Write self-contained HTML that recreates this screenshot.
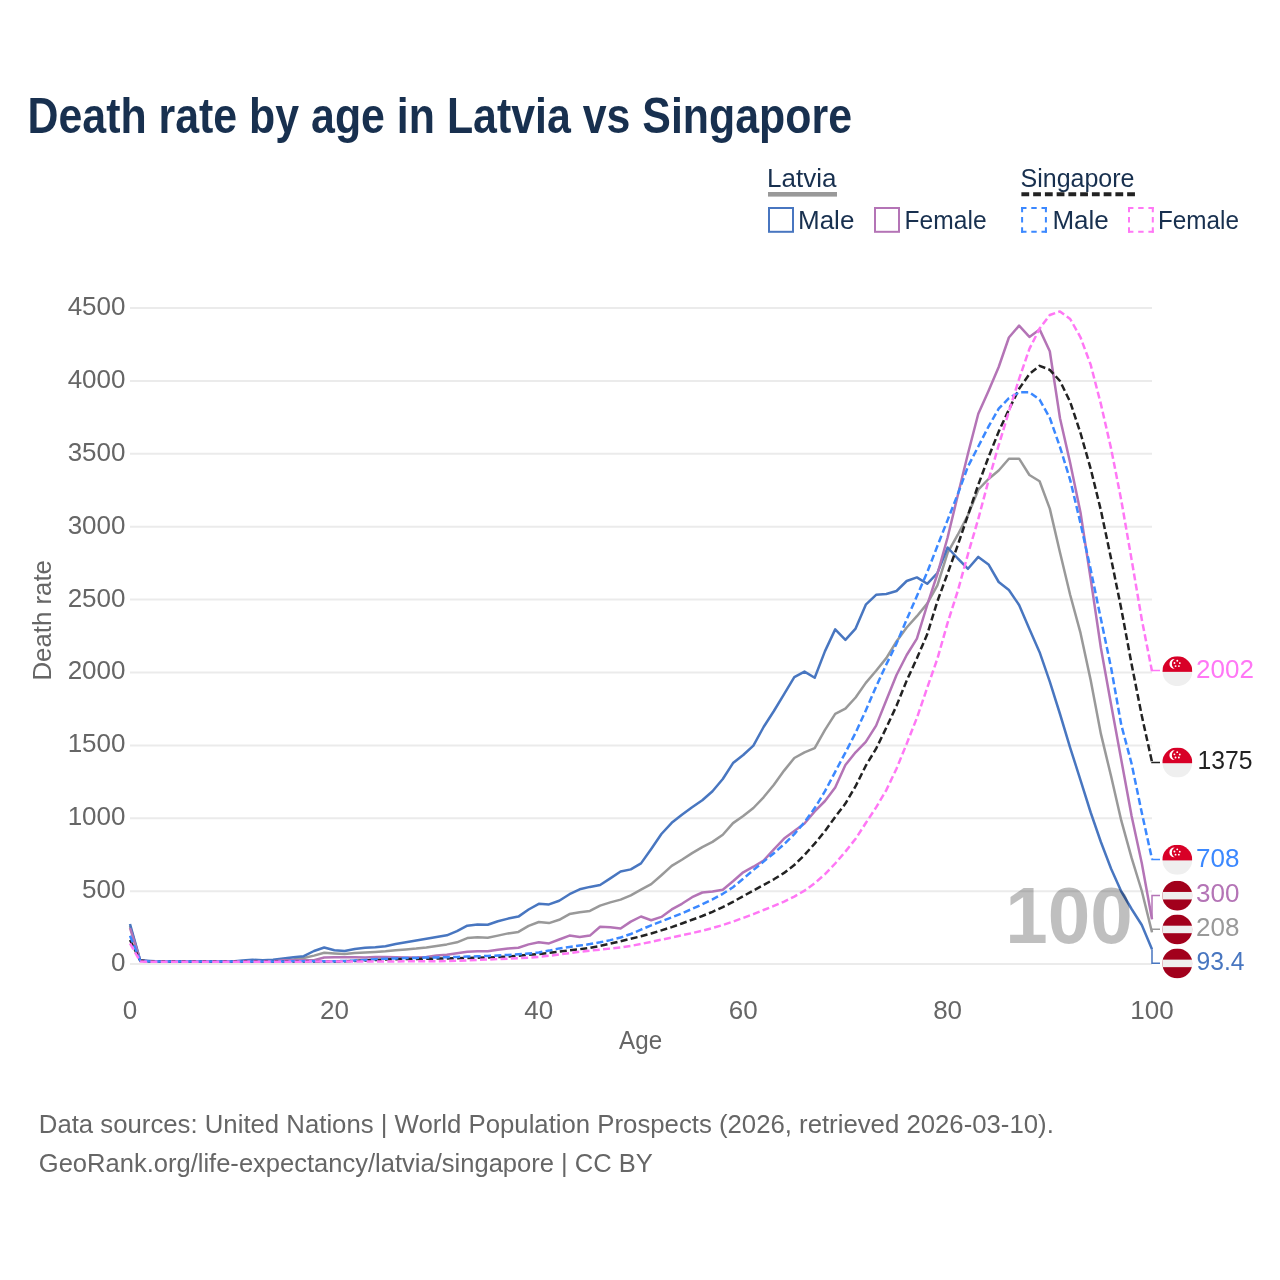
<!DOCTYPE html>
<html><head><meta charset="utf-8">
<style>
html,body{margin:0;padding:0;background:#fff;width:1280px;height:1280px;overflow:hidden}
svg{display:block;will-change:transform}
text{font-family:"Liberation Sans",sans-serif}
</style></head>
<body>
<svg id="root" width="1280" height="1280" viewBox="0 0 1280 1280">
<defs>
<clipPath id="cc"><circle cx="0" cy="0" r="15"/></clipPath>
<g id="sg">
<g clip-path="url(#cc)">
<rect x="-15" y="-15" width="30" height="30" fill="#efefef"/>
<rect x="-15" y="-15" width="30" height="15.6" fill="#d80027"/>
<path d="M-2.65,-12.25 A4.89,4.89 0 1 0 -2.65,-2.5 A5.645,5.645 0 0 1 -2.65,-12.25 Z" fill="#fff"/>
<circle cx="-0.05" cy="-10.45" r="0.95" fill="#fff"/>
<circle cx="-2.85" cy="-8.25" r="0.95" fill="#fff"/>
<circle cx="2.45" cy="-8.15" r="0.95" fill="#fff"/>
<circle cx="-1.75" cy="-5.15" r="0.95" fill="#fff"/>
<circle cx="1.55" cy="-5.15" r="0.95" fill="#fff"/>
</g>
</g>
<g id="lv">
<g clip-path="url(#cc)">
<rect x="-15" y="-15" width="30" height="30" fill="#a2001c"/>
<rect x="-15" y="-3.75" width="30" height="7.5" fill="#efefef"/>
</g>
</g>
</defs>
<rect width="1280" height="1280" fill="#fff"/>
<text id="title" x="27.5" y="132.7" font-size="50" font-weight="bold" fill="#18304f" textLength="824.5" lengthAdjust="spacingAndGlyphs">Death rate by age in Latvia vs Singapore</text>

<!-- legend -->
<g fill="#18304f" font-size="26">
<text id="lgLat" x="767" y="186.8">Latvia</text>
<text id="lgSin" x="1020.5" y="186.8" textLength="114" lengthAdjust="spacingAndGlyphs">Singapore</text>
<text id="lgM1" x="798" y="229">Male</text>
<text id="lgF1" x="904.6" y="229" textLength="82" lengthAdjust="spacingAndGlyphs">Female</text>
<text id="lgM2" x="1052.4" y="229">Male</text>
<text id="lgF2" x="1158" y="229" textLength="81" lengthAdjust="spacingAndGlyphs">Female</text>
</g>
<rect x="768" y="192" width="69" height="4.6" fill="#999"/>
<line x1="1021.4" y1="194.2" x2="1135.2" y2="194.2" stroke="#222" stroke-width="4" stroke-dasharray="7.8 3.95"/>
<rect x="769" y="208" width="24" height="23.8" fill="none" stroke="#4876c0" stroke-width="2"/>
<rect x="875" y="208" width="24" height="23.8" fill="none" stroke="#b474b6" stroke-width="2"/>
<g stroke="#3b88ff" stroke-width="2" stroke-dasharray="5.4 4.8">
<line x1="1021.1" y1="207.9" x2="1046.9" y2="207.9"/><line x1="1021.1" y1="231.8" x2="1046.9" y2="231.8"/>
<line x1="1022.1" y1="206.9" x2="1022.1" y2="232.8"/><line x1="1045.9" y1="206.9" x2="1045.9" y2="232.8"/>
</g>
<g stroke="#ff77f5" stroke-width="2" stroke-dasharray="5.4 4.8">
<line x1="1128" y1="207.9" x2="1153.8" y2="207.9"/><line x1="1128" y1="231.8" x2="1153.8" y2="231.8"/>
<line x1="1129" y1="206.9" x2="1129" y2="232.8"/><line x1="1152.8" y1="206.9" x2="1152.8" y2="232.8"/>
</g>

<!-- grid -->
<g stroke="#ebebeb" stroke-width="2">
<line x1="130" y1="308.0" x2="1152" y2="308.0"/>
<line x1="130" y1="380.9" x2="1152" y2="380.9"/>
<line x1="130" y1="453.8" x2="1152" y2="453.8"/>
<line x1="130" y1="526.7" x2="1152" y2="526.7"/>
<line x1="130" y1="599.6" x2="1152" y2="599.6"/>
<line x1="130" y1="672.5" x2="1152" y2="672.5"/>
<line x1="130" y1="745.4" x2="1152" y2="745.4"/>
<line x1="130" y1="818.3" x2="1152" y2="818.3"/>
<line x1="130" y1="891.2" x2="1152" y2="891.2"/>
<line x1="130" y1="964.1" x2="1152" y2="964.1"/>
</g>
<g fill="#666" font-size="26" text-anchor="end">
<text id="yt4500" x="125.5" y="314.9">4500</text>
<text id="yt4000" x="125.5" y="387.8">4000</text>
<text id="yt3500" x="125.5" y="460.7">3500</text>
<text id="yt3000" x="125.5" y="533.6">3000</text>
<text id="yt2500" x="125.5" y="606.5">2500</text>
<text id="yt2000" x="125.5" y="679.4">2000</text>
<text id="yt1500" x="125.5" y="752.3">1500</text>
<text id="yt1000" x="125.5" y="825.2">1000</text>
<text id="yt500" x="125.5" y="898.1">500</text>
<text id="yt0" x="125.5" y="971.0">0</text>
</g>
<g fill="#666" font-size="26" text-anchor="middle">
<text id="xl0" x="130.0" y="1018.5">0</text>
<text id="xl20" x="334.4" y="1018.5">20</text>
<text id="xl40" x="538.8" y="1018.5">40</text>
<text id="xl60" x="743.2" y="1018.5">60</text>
<text id="xl80" x="947.6" y="1018.5">80</text>
<text id="xl100" x="1152.0" y="1018.5">100</text>
</g>
<text id="xt" x="640.6" y="1048.9" font-size="26" fill="#666" text-anchor="middle" textLength="43" lengthAdjust="spacingAndGlyphs">Age</text>
<text id="yt" transform="translate(50.6,620.3) rotate(-90)" font-size="26" fill="#666" text-anchor="middle" textLength="120.5" lengthAdjust="spacingAndGlyphs">Death rate</text>

<g id="lines" fill="none" stroke-width="2.5" stroke-linejoin="round">
<path d="M130.0,926.0 140.2,960.5 150.4,961.5 160.7,961.5 170.9,961.5 181.1,961.5 191.3,961.5 201.5,961.5 211.8,961.5 222.0,961.5 232.2,961.5 242.4,961.5 252.6,961.5 262.9,961.5 273.1,961.5 283.3,960.0 293.5,959.5 303.7,958.0 314.0,955.6 324.2,952.8 334.4,953.5 344.6,954.0 354.8,953.1 365.1,952.5 375.3,951.9 385.5,951.3 395.7,950.3 405.9,949.4 416.2,948.6 426.4,947.5 436.6,945.9 446.8,944.4 457.0,942.3 467.3,938.1 477.5,937.2 487.7,937.7 497.9,935.6 508.1,933.4 518.4,931.9 528.6,925.9 538.8,922.0 549.0,923.1 559.2,919.8 569.5,914.1 579.7,912.2 589.9,910.9 600.1,905.6 610.3,902.4 620.6,899.6 630.8,895.3 641.0,889.7 651.2,884.1 661.4,875.2 671.7,865.9 681.9,859.7 692.1,853.1 702.3,847.1 712.5,841.9 722.8,834.8 733.0,823.1 743.2,816.0 753.4,808.0 763.6,797.3 773.9,784.7 784.1,770.6 794.3,758.0 804.5,752.3 814.7,748.1 825.0,729.8 835.2,713.8 845.4,708.7 855.6,697.5 865.8,682.9 876.1,670.8 886.3,658.1 896.5,641.5 906.7,627.5 916.9,616.2 927.2,603.6 937.4,585.3 947.6,552.9 957.8,534.7 968.0,515.0 978.3,489.7 988.5,479.0 998.7,470.5 1008.9,458.7 1019.1,458.7 1029.4,475.0 1039.6,481.2 1049.8,508.6 1060.0,552.5 1070.2,595.0 1080.5,632.9 1090.7,680.3 1100.9,733.9 1111.1,776.3 1121.3,820.7 1131.6,857.9 1141.8,891.0 1152.0,932.3" stroke="#999"/>
<path d="M130.0,924.0 140.2,960.3 150.4,961.0 160.7,961.5 170.9,961.5 181.1,961.5 191.3,961.5 201.5,961.5 211.8,961.5 222.0,961.5 232.2,961.5 242.4,960.6 252.6,959.8 262.9,960.2 273.1,959.8 283.3,958.5 293.5,957.2 303.7,956.2 314.0,951.0 324.2,947.5 334.4,950.2 344.6,951.0 354.8,949.0 365.1,947.8 375.3,947.2 385.5,946.2 395.7,944.0 405.9,942.3 416.2,940.5 426.4,938.8 436.6,936.9 446.8,935.3 457.0,931.2 467.3,925.7 477.5,924.5 487.7,924.8 497.9,921.2 508.1,918.6 518.4,916.6 528.6,909.5 538.8,903.8 549.0,904.4 559.2,900.7 569.5,894.2 579.7,889.3 589.9,886.9 600.1,885.0 610.3,878.4 620.6,871.5 630.8,869.4 641.0,863.4 651.2,849.0 661.4,834.0 671.7,822.8 681.9,814.7 692.1,807.2 702.3,800.2 712.5,791.2 722.8,779.0 733.0,763.1 743.2,755.0 753.4,745.6 763.6,727.0 773.9,711.0 784.1,694.1 794.3,677.2 804.5,671.6 814.7,677.8 825.0,651.1 835.2,629.4 845.4,639.8 855.6,628.6 865.8,604.7 876.1,594.8 886.3,594.0 896.5,591.0 906.7,581.0 916.9,577.4 927.2,583.8 937.4,573.0 947.6,547.5 957.8,558.5 968.0,568.8 978.3,556.9 988.5,564.4 998.7,582.0 1008.9,590.0 1019.1,605.0 1029.4,629.0 1039.6,652.2 1049.8,681.7 1060.0,714.0 1070.2,747.8 1080.5,780.1 1090.7,812.5 1100.9,842.0 1111.1,868.7 1121.3,891.5 1131.6,909.0 1141.8,925.0 1152.0,949.2" stroke="#4876c0"/>
<path d="M130.0,928.0 140.2,960.5 150.4,961.5 160.7,961.5 170.9,961.5 181.1,961.5 191.3,961.5 201.5,961.5 211.8,961.5 222.0,961.5 232.2,961.5 242.4,961.5 252.6,961.5 262.9,961.5 273.1,961.5 283.3,960.2 293.5,960.2 303.7,960.2 314.0,960.2 324.2,957.5 334.4,957.2 344.6,957.2 354.8,957.2 365.1,957.5 375.3,957.0 385.5,956.9 395.7,957.3 405.9,957.5 416.2,957.5 426.4,956.9 436.6,955.6 446.8,954.8 457.0,953.3 467.3,951.7 477.5,951.2 487.7,951.2 497.9,949.7 508.1,948.6 518.4,947.8 528.6,944.4 538.8,942.3 549.0,943.4 559.2,939.5 569.5,935.6 579.7,937.0 589.9,935.6 600.1,926.8 610.3,927.2 620.6,928.5 630.8,921.6 641.0,916.5 651.2,920.2 661.4,916.9 671.7,909.4 681.9,903.8 692.1,897.2 702.3,892.5 712.5,891.6 722.8,889.7 733.0,881.2 743.2,872.3 753.4,866.7 763.6,860.6 773.9,849.3 784.1,838.6 794.3,831.0 804.5,823.5 814.7,811.4 825.0,801.0 835.2,787.5 845.4,765.0 855.6,752.3 865.8,741.9 876.1,725.6 886.3,700.3 896.5,675.0 906.7,655.0 916.9,638.7 927.2,605.0 937.4,574.0 947.6,537.5 957.8,495.3 968.0,453.5 978.3,413.8 988.5,391.0 998.7,367.0 1008.9,337.5 1019.1,325.6 1029.4,336.9 1039.6,329.4 1049.8,351.2 1060.0,418.3 1070.2,463.0 1080.5,512.5 1090.7,579.0 1100.9,648.0 1111.1,704.5 1121.3,760.0 1131.6,815.9 1141.8,863.2 1152.0,919.2" stroke="#b474b6"/>
<path d="M130.0,940.0 140.2,960.5 150.4,961.5 160.7,961.5 170.9,961.5 181.1,961.5 191.3,961.5 201.5,961.5 211.8,961.5 222.0,961.5 232.2,961.5 242.4,961.5 252.6,961.5 262.9,961.5 273.1,961.5 283.3,961.5 293.5,961.5 303.7,961.5 314.0,961.5 324.2,961.5 334.4,961.5 344.6,961.3 354.8,960.9 365.1,960.4 375.3,959.9 385.5,959.5 395.7,959.2 405.9,959.0 416.2,958.9 426.4,958.7 436.6,958.6 446.8,958.4 457.0,958.2 467.3,958.0 477.5,957.8 487.7,957.5 497.9,957.1 508.1,956.5 518.4,955.7 528.6,954.9 538.8,954.0 549.0,952.9 559.2,951.6 569.5,950.4 579.7,949.2 589.9,947.8 600.1,945.9 610.3,943.6 620.6,941.2 630.8,938.8 641.0,936.3 651.2,933.5 661.4,930.4 671.7,927.1 681.9,923.5 692.1,919.8 702.3,916.0 712.5,911.8 722.8,907.1 733.0,901.8 743.2,896.2 753.4,890.5 763.6,885.0 773.9,879.3 784.1,872.9 794.3,865.0 804.5,855.0 814.7,843.6 825.0,831.1 835.2,816.9 845.4,803.6 855.6,786.2 865.8,765.7 876.1,748.7 886.3,727.7 896.5,705.8 906.7,680.6 916.9,658.3 927.2,634.3 937.4,601.3 947.6,573.4 957.8,545.1 968.0,515.1 978.3,484.7 988.5,457.1 998.7,431.6 1008.9,409.6 1019.1,388.8 1029.4,374.0 1039.6,365.8 1049.8,369.8 1060.0,381.0 1070.2,402.0 1080.5,433.0 1090.7,468.9 1100.9,510.4 1111.1,558.7 1121.3,609.0 1131.6,664.2 1141.8,715.8 1152.0,762.0" stroke="#222" stroke-dasharray="7 3.3"/>
<path d="M130.0,935.7 140.2,960.5 150.4,961.5 160.7,961.5 170.9,961.5 181.1,961.5 191.3,961.5 201.5,961.5 211.8,961.5 222.0,961.5 232.2,961.5 242.4,961.4 252.6,961.4 262.9,961.4 273.1,961.4 283.3,961.4 293.5,961.3 303.7,961.3 314.0,961.3 324.2,961.2 334.4,961.2 344.6,961.0 354.8,960.5 365.1,959.9 375.3,959.2 385.5,958.8 395.7,958.4 405.9,958.1 416.2,957.9 426.4,957.6 436.6,957.4 446.8,957.2 457.0,956.9 467.3,956.6 477.5,956.3 487.7,955.9 497.9,955.5 508.1,954.9 518.4,954.3 528.6,953.5 538.8,952.5 549.0,950.6 559.2,948.4 569.5,946.9 579.7,945.6 589.9,944.1 600.1,942.3 610.3,940.1 620.6,937.5 630.8,934.0 641.0,929.6 651.2,925.3 661.4,921.3 671.7,917.4 681.9,913.3 692.1,908.9 702.3,904.3 712.5,899.4 722.8,893.8 733.0,887.2 743.2,878.8 753.4,870.0 763.6,861.6 773.9,853.2 784.1,844.2 794.3,834.1 804.5,822.2 814.7,808.1 825.0,791.2 835.2,771.8 845.4,752.6 855.6,732.8 865.8,710.5 876.1,686.6 886.3,664.5 896.5,643.6 906.7,619.5 916.9,596.0 927.2,572.3 937.4,546.0 947.6,520.1 957.8,494.1 968.0,466.4 978.3,446.5 988.5,426.6 998.7,408.7 1008.9,398.1 1019.1,392.4 1029.4,392.2 1039.6,399.6 1049.8,417.9 1060.0,447.1 1070.2,480.1 1080.5,523.3 1090.7,569.6 1100.9,619.0 1111.1,667.8 1121.3,725.0 1131.6,763.7 1141.8,812.8 1152.0,858.9" stroke="#3b88ff" stroke-dasharray="7 3.3"/>
<path d="M130.0,943.4 140.2,961.4 150.4,961.8 160.7,961.8 170.9,961.8 181.1,961.8 191.3,961.8 201.5,961.8 211.8,961.8 222.0,961.8 232.2,961.8 242.4,961.8 252.6,961.7 262.9,961.7 273.1,961.7 283.3,961.7 293.5,961.7 303.7,961.7 314.0,961.6 324.2,961.6 334.4,961.6 344.6,961.6 354.8,961.5 365.1,961.5 375.3,961.5 385.5,961.4 395.7,961.4 405.9,961.3 416.2,961.3 426.4,961.2 436.6,961.2 446.8,961.1 457.0,960.8 467.3,960.4 477.5,959.9 487.7,959.5 497.9,959.1 508.1,958.7 518.4,958.2 528.6,957.6 538.8,956.9 549.0,955.8 559.2,954.4 569.5,953.1 579.7,951.8 589.9,950.6 600.1,949.6 610.3,948.6 620.6,947.5 630.8,945.9 641.0,944.0 651.2,941.8 661.4,939.7 671.7,937.6 681.9,935.3 692.1,933.1 702.3,930.7 712.5,928.0 722.8,925.0 733.0,921.6 743.2,917.9 753.4,914.1 763.6,910.0 773.9,905.9 784.1,901.6 794.3,896.6 804.5,890.7 814.7,883.3 825.0,874.1 835.2,863.5 845.4,851.6 855.6,838.8 865.8,823.0 876.1,807.4 886.3,790.1 896.5,768.7 906.7,743.7 916.9,717.9 927.2,687.8 937.4,658.7 947.6,622.9 957.8,590.9 968.0,554.0 978.3,518.9 988.5,480.6 998.7,445.2 1008.9,411.7 1019.1,378.9 1029.4,348.9 1039.6,328.6 1049.8,315.0 1060.0,311.4 1070.2,319.0 1080.5,337.3 1090.7,364.8 1100.9,404.1 1111.1,448.6 1121.3,500.4 1131.6,559.6 1141.8,619.6 1152.0,671.2" stroke="#ff77f5" stroke-dasharray="7 3.3"/>
</g>
<text id="wm" x="1069" y="943" font-size="80" font-weight="bold" fill="#000" fill-opacity="0.25" text-anchor="middle" textLength="127.5" lengthAdjust="spacingAndGlyphs">100</text>
<g fill="none" stroke-width="1.5">
<path d="M1152,670.5 H1160" stroke="#ff77f5"/>
<path d="M1152,761.9 V762.5 H1160" stroke="#222"/>
<path d="M1152,858.9 V859.5 H1160" stroke="#3b88ff"/>
<path d="M1152,919.2 V895.6 H1160" stroke="#b474b6"/>
<path d="M1152,932.3 V929.3 H1160" stroke="#999"/>
<path d="M1152,949.2 V963.3 H1160" stroke="#4876c0"/>
</g>
<use href="#sg" x="1177.35" y="671.25"/>
<use href="#sg" x="1177.3" y="762.6"/>
<use href="#sg" x="1177.3" y="859.8"/>
<use href="#lv" x="1177.3" y="895.7"/>
<use href="#lv" x="1177.35" y="929.45"/>
<use href="#lv" x="1177.3" y="963.4"/>
<g font-size="26">
<text id="l1" x="1196" y="678" fill="#ff77f5">2002</text>
<text id="l2" x="1197.5" y="769" fill="#222" textLength="55" lengthAdjust="spacingAndGlyphs">1375</text>
<text id="l3" x="1196" y="866.8" fill="#3b88ff">708</text>
<text id="l4" x="1196" y="901.9" fill="#b474b6">300</text>
<text id="l5" x="1196" y="935.6" fill="#999">208</text>
<text id="l6" x="1196.5" y="969.8" fill="#4876c0" textLength="48" lengthAdjust="spacingAndGlyphs">93.4</text>
</g>

<!-- footer -->
<g fill="#666" font-size="26">
<text id="f1" x="38.8" y="1132.8" textLength="1015" lengthAdjust="spacingAndGlyphs">Data sources: United Nations | World Population Prospects (2026, retrieved 2026-03-10).</text>
<text id="f2" x="38.8" y="1171.7" textLength="614" lengthAdjust="spacingAndGlyphs">GeoRank.org/life-expectancy/latvia/singapore | CC BY</text>
</g>
</svg>
</body></html>
